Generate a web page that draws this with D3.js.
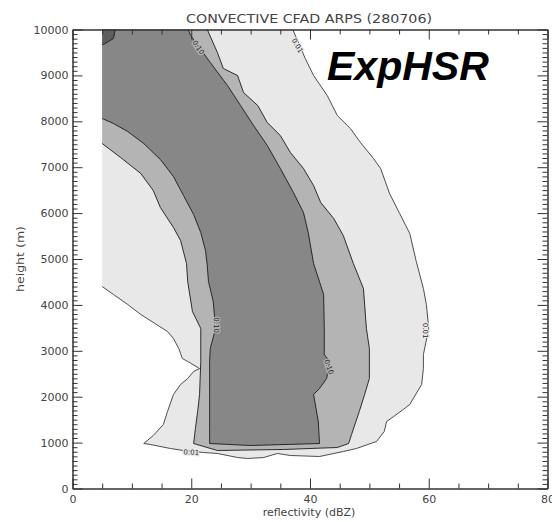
<!DOCTYPE html>
<html>
<head>
<meta charset="utf-8">
<script src="https://cdn.jsdelivr.net/npm/d3@7/dist/d3.min.js"></script>
<style>
  html, body { margin: 0; padding: 0; background: #fff; }
  svg { display: block; font-family: "DejaVu Sans", sans-serif; }
</style>
</head>
<body>
<svg id="chart" width="552" height="522"></svg>
<script>
// contour outlines, [reflectivity dBZ, height m]
var contour001 = [
  [5, 10000], [37.1, 10000], [39.2, 9368], [40.6, 8998], [42.9, 8562], [44.6, 8126],
  [46.8, 7843], [48.5, 7538], [50.7, 7189], [51.9, 6971], [53.4, 6427], [55.1, 5991],
  [56.8, 5556], [57.9, 4946], [59.1, 4357], [59.6, 4009], [60.0, 3486], [59.1, 2919],
  [59.1, 2614], [58.8, 2266], [56.8, 1830], [55.7, 1721], [54.1, 1569], [52.9, 1460],
  [52.5, 1242], [51.2, 1024], [47.8, 871], [45.6, 806], [41.6, 697], [36.7, 719],
  [34.5, 763], [32.2, 675], [29.5, 654], [27.8, 675], [24.4, 763], [22.1, 784],
  [18.7, 828], [16.5, 871], [13.1, 959], [12.0, 980], [13.6, 1155], [15.3, 1394],
  [16.0, 1678], [17.0, 2048], [18.2, 2266], [19.4, 2396], [20.4, 2549], [21.4, 2614],
  [19.4, 2767], [18.5, 2832], [17.9, 3050], [17.0, 3268], [16.0, 3420], [11.5, 3791],
  [9.3, 4009], [6.9, 4226], [5, 4401]
];
var contour005 = [
  [5, 10000], [22.7, 10000], [24.4, 9499], [25.4, 9150], [27.8, 8998], [28.8, 8627],
  [31.2, 8344], [32.8, 7974], [35.0, 7690], [36.7, 7320], [38.9, 6972], [40.6, 6601],
  [41.8, 6231], [44.0, 5882], [45.6, 5512], [47.3, 4902], [49.0, 4357], [49.5, 3486],
  [50.0, 3050], [50.0, 2396], [49.2, 2048], [48.3, 1678], [47.0, 1176], [46.5, 980],
  [44.6, 893], [35.5, 850], [24.4, 828], [20.4, 980], [20.7, 1307], [21.1, 1699],
  [21.4, 2048], [21.6, 2767], [21.6, 3486], [20.2, 3856], [19.4, 4510], [19.2, 4902],
  [18.2, 5403], [17.0, 5686], [14.8, 6122], [13.6, 6492], [11.5, 6863], [8.1, 7211],
  [5, 7516]
];
var contour010 = [
  [5, 10000], [19.5, 10000], [19.9, 9869], [23.2, 9281], [26.1, 8780], [28.3, 8344],
  [30.5, 7908], [32.8, 7473], [35.0, 6972], [37.2, 6449], [38.9, 6013], [39.7, 5577],
  [40.6, 4902], [42.3, 4226], [42.4, 3486], [42.4, 2919], [43.3, 2767], [42.8, 2396],
  [41.6, 2179], [40.6, 2048], [41.4, 1460], [41.6, 980], [30.0, 937], [23.1, 980],
  [23.1, 1307], [23.1, 2048], [23.1, 2767], [23.2, 3050], [24.1, 3486], [23.7, 4074],
  [22.9, 4510], [22.7, 4858], [22.4, 5185], [21.6, 5577], [20.4, 5969], [18.7, 6383],
  [17.0, 6797], [14.8, 7168], [12.0, 7516], [9.3, 7778], [6.9, 7952], [5, 8061]
];
var contour020 = [
  [5, 10000], [7.2, 10000], [6.9, 9804], [5.2, 9673], [5, 9673]
];

var levelNames = ['0.01', '0.05', '0.10', '0.20'];
var levelShapes = [contour001, contour005, contour010, contour020];
var levelColors = ['#e8e8e8', '#b4b4b4', '#878787', '#5e5e5e'];

// contour labels: text, dBZ, height, angle
var labelText = ['0.10', '0.01', '0.10', '0.10', '0.01', '0.01'];
var labelDbz = [21.2, 37.9, 24.3, 43.2, 59.4, 20.0];
var labelHeight = [9610, 9650, 3560, 2650, 3440, 790];
var labelAngle = [55, 60, 90, 70, 90, 4];

var dbzMajor = [0, 20, 40, 60, 80];
var dbzMinor = [5, 10, 15, 25, 30, 35, 45, 50, 55, 65, 70, 75];
var heightMajor = [0, 1000, 2000, 3000, 4000, 5000, 6000, 7000, 8000, 9000, 10000];

var chartTitle = 'CONVECTIVE CFAD ARPS (280706)';
var xTitle = 'reflectivity (dBZ)';
var yTitle = 'height (m)';
var tag = 'ExpHSR';

var dataEdgeDbz = 5, topHeight = 10000;

var svg = d3.select('#chart');
var x = d3.scaleLinear().domain([0, 80]).range([72.5, 547.5]);
var y = d3.scaleLinear().domain([0, 10000]).range([488.5, 29.5]);

var heightMinor = [];
heightMajor.slice(0, -1).forEach(function(h) {
  for (var k = 1; k < 10; k++) heightMinor.push(h + k * 100);
});

// filled regions
var line = d3.line()
  .x(function(d) { return x(d[0]); })
  .y(function(d) { return y(d[1]); });

svg.append('g')
  .selectAll('path')
  .data(levelShapes)
  .enter().append('path')
  .attr('d', function(d) { return line(d) + 'Z'; })
  .style('fill', function(d, i) { return levelColors[i]; })
  .style('stroke', 'none');

// contour lines, without the data edge at 5 dBZ or the top of the domain
function contourRuns(ring) {
  var runs = [], run = [];
  var pts = ring.concat([ring[0]]);
  for (var i = 0; i < pts.length - 1; i++) {
    var a = pts[i], b = pts[i + 1];
    var onEdge = (a[0] === dataEdgeDbz && b[0] === dataEdgeDbz) ||
      (a[1] === topHeight && b[1] === topHeight);
    if (onEdge) {
      if (run.length) runs.push(run);
      run = [];
    } else {
      if (!run.length) run.push(a);
      run.push(b);
    }
  }
  if (run.length) runs.push(run);
  return runs;
}

var runs = [];
levelShapes.forEach(function(s, i) {
  contourRuns(s).forEach(function(r) { runs.push({ pts: r, level: i }); });
});

svg.append('g')
  .selectAll('path')
  .data(runs)
  .enter().append('path')
  .attr('d', function(d) { return line(d.pts); })
  .style('fill', 'none')
  .style('stroke', function(d) { return d.level === 0 ? '#3a3a3a' : '#1a1a1a'; })
  .style('stroke-width', 0.9);

// contour labels
svg.append('g')
  .selectAll('text')
  .data(labelText)
  .enter().append('text')
  .attr('transform', function(d, i) {
    return 'translate(' + x(labelDbz[i]) + ',' + y(labelHeight[i]) + ') rotate(' + labelAngle[i] + ')';
  })
  .attr('text-anchor', 'middle')
  .attr('dy', '0.35em')
  .style('font-size', '7px')
  .style('fill', '#222')
  .style('paint-order', 'stroke')
  .style('stroke', function(d) { return d === '0.01' ? '#e8e8e8' : '#b4b4b4'; })
  .style('stroke-width', 2.5)
  .text(function(d) { return d; });

// axes
function styleAxis(g) {
  g.selectAll('path.domain').style('stroke', '#333').style('stroke-width', 1);
  g.selectAll('.tick line').style('stroke', '#333');
  g.selectAll('.tick text')
    .style('font-family', '"DejaVu Sans", sans-serif')
    .style('font-size', '11px')
    .style('fill', '#444');
}

svg.append('g')
  .attr('transform', 'translate(0,' + y(0) + ')')
  .call(d3.axisBottom(x).tickValues(dbzMajor).tickSizeInner(-10).tickSizeOuter(0)
    .tickPadding(7).tickFormat(d3.format('d')))
  .call(styleAxis);
svg.append('g')
  .attr('transform', 'translate(0,' + y(0) + ')')
  .call(d3.axisBottom(x).tickValues(dbzMinor).tickSizeInner(-5).tickSizeOuter(0).tickFormat(''))
  .call(styleAxis);
svg.append('g')
  .attr('transform', 'translate(0,' + y(10000) + ')')
  .call(d3.axisTop(x).tickValues(dbzMajor).tickSizeInner(-10).tickSizeOuter(0).tickFormat(''))
  .call(styleAxis);
svg.append('g')
  .attr('transform', 'translate(0,' + y(10000) + ')')
  .call(d3.axisTop(x).tickValues(dbzMinor).tickSizeInner(-5).tickSizeOuter(0).tickFormat(''))
  .call(styleAxis);

svg.append('g')
  .attr('transform', 'translate(' + x(0) + ',0)')
  .call(d3.axisLeft(y).tickValues(heightMajor).tickSizeInner(-10).tickSizeOuter(0)
    .tickPadding(4).tickFormat(d3.format('d')))
  .call(styleAxis);
svg.append('g')
  .attr('transform', 'translate(' + x(0) + ',0)')
  .call(d3.axisLeft(y).tickValues(heightMinor).tickSizeInner(-5).tickSizeOuter(0).tickFormat(''))
  .call(styleAxis);
svg.append('g')
  .attr('transform', 'translate(' + x(80) + ',0)')
  .call(d3.axisRight(y).tickValues(heightMajor).tickSizeInner(-10).tickSizeOuter(0).tickFormat(''))
  .call(styleAxis);
svg.append('g')
  .attr('transform', 'translate(' + x(80) + ',0)')
  .call(d3.axisRight(y).tickValues(heightMinor).tickSizeInner(-5).tickSizeOuter(0).tickFormat(''))
  .call(styleAxis);

// titles
svg.append('text')
  .attr('x', 309).attr('y', 23)
  .attr('text-anchor', 'middle')
  .attr('textLength', 246)
  .attr('lengthAdjust', 'spacingAndGlyphs')
  .style('font-size', '12px')
  .style('fill', '#444')
  .text(chartTitle);

svg.append('text')
  .attr('x', 309).attr('y', 516)
  .attr('text-anchor', 'middle')
  .style('font-size', '11px')
  .style('fill', '#444')
  .text(xTitle);

svg.append('text')
  .attr('transform', 'translate(24,' + y(5000) + ') rotate(-90)')
  .attr('text-anchor', 'middle')
  .attr('textLength', 66)
  .attr('lengthAdjust', 'spacingAndGlyphs')
  .style('font-size', '11px')
  .style('fill', '#444')
  .text(yTitle);

svg.append('text')
  .attr('x', 327).attr('y', 80)
  .style('font-family', '"Liberation Sans", Arial, sans-serif')
  .style('font-weight', 'bold')
  .style('font-style', 'italic')
  .style('font-size', '41px')
  .style('fill', '#000')
  .text(tag);
</script>
</body>
</html>
